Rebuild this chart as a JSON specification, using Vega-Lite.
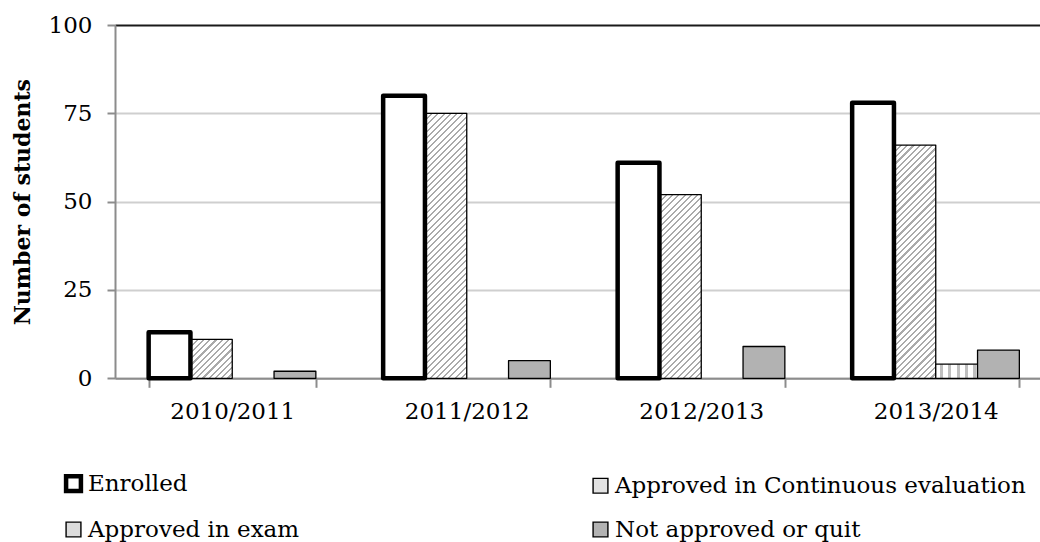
{
  "$schema": "https://vega.github.io/schema/vega-lite/v6.json",
  "width": 925,
  "height": 353.3,
  "autosize": {"type": "none"},
  "padding": {"left": 115, "top": 25, "right": 0, "bottom": 163.7},
  "background": "white",
  "config": {
    "view": {"stroke": null},
    "font": "DejaVu Serif"
  },
  "data": {
    "values": [
      {"season": "2010/2011", "series": "Approved in Continuous evaluation", "value": 11},
      {"season": "2010/2011", "series": "Approved in exam", "value": 0},
      {"season": "2010/2011", "series": "Not approved or quit", "value": 2},
      {"season": "2011/2012", "series": "Approved in Continuous evaluation", "value": 75},
      {"season": "2011/2012", "series": "Approved in exam", "value": 0},
      {"season": "2011/2012", "series": "Not approved or quit", "value": 5},
      {"season": "2012/2013", "series": "Approved in Continuous evaluation", "value": 52},
      {"season": "2012/2013", "series": "Approved in exam", "value": 0},
      {"season": "2012/2013", "series": "Not approved or quit", "value": 9},
      {"season": "2013/2014", "series": "Approved in Continuous evaluation", "value": 66},
      {"season": "2013/2014", "series": "Approved in exam", "value": 4},
      {"season": "2013/2014", "series": "Not approved or quit", "value": 8},
      {"season": "2010/2011", "series": "Enrolled", "value": 13},
      {"season": "2011/2012", "series": "Enrolled", "value": 80},
      {"season": "2012/2013", "series": "Enrolled", "value": 61},
      {"season": "2013/2014", "series": "Enrolled", "value": 78}
    ]
  },
  "transform": [{"filter": "datum.value > 0"}],
  "mark": {"type": "bar", "stroke": "black", "strokeJoin": "round"},
  "encoding": {
    "x": {
      "field": "season",
      "type": "nominal",
      "sort": ["2010/2011", "2011/2012", "2012/2013", "2013/2014"],
      "scale": {"range": [0, 938], "paddingInner": 0.287, "paddingOuter": 0.1435},
      "axis": {
        "title": null,
        "labelAngle": 0,
        "labelFontSize": 23,
        "labelColor": "black",
        "labelPadding": 13,
        "tickBand": "extent",
        "tickSize": 9,
        "tickColor": "#8c8c8c",
        "tickWidth": 2,
        "domainColor": "#8c8c8c",
        "domainWidth": 2,
        "grid": false
      }
    },
    "xOffset": {
      "field": "series",
      "type": "nominal",
      "scale": {
        "domain": ["Enrolled", "Approved in Continuous evaluation", "Approved in exam", "Not approved or quit"],
        "paddingInner": 0,
        "paddingOuter": 0
      }
    },
    "y": {
      "field": "value",
      "type": "quantitative",
      "scale": {"domain": [0, 100]},
      "axis": {
        "title": "Number of students",
        "titleFontSize": 22,
        "titleFontWeight": "bold",
        "titleColor": "black",
        "titlePadding": 14,
        "values": [0, 25, 50, 75, 100],
        "labelFontSize": 23,
        "labelColor": "black",
        "labelPadding": 15,
        "tickSize": 8,
        "tickColor": "#8c8c8c",
        "tickWidth": 2,
        "domainColor": "#8c8c8c",
        "domainWidth": 2,
        "gridColor": {"condition": {"test": "datum.value === 100", "value": "#1a1a1a"}, "value": "#cfcfcf"},
        "gridWidth": 2
      }
    },
    "fill": {
      "field": "series",
      "type": "nominal",
      "scale": {
        "domain": ["Enrolled", "Approved in exam", "Approved in Continuous evaluation", "Not approved or quit"],
        "range": ["#ffffff", "#dcdcdc", "#e2e2e2", "#b2b2b2"]
      },
      "condition": [
        {
          "test": "datum.series === 'Approved in Continuous evaluation'",
          "value": {"expr": "{gradient:'linear',x1:0,y1:0,x2:312.5*bandwidth('xOffset')/(pow(bandwidth('xOffset'),2)+pow(scale('y',0)-scale('y',datum.value),2)),y2:312.5*(scale('y',0)-scale('y',datum.value))/(pow(bandwidth('xOffset'),2)+pow(scale('y',0)-scale('y',datum.value),2)),stops:[{offset:0,color:'#aaa'},{offset:0.007,color:'#aaa'},{offset:0.007,color:'#fff'},{offset:0.02,color:'#fff'},{offset:0.02,color:'#aaa'},{offset:0.027,color:'#aaa'},{offset:0.027,color:'#fff'},{offset:0.04,color:'#fff'},{offset:0.04,color:'#aaa'},{offset:0.047,color:'#aaa'},{offset:0.047,color:'#fff'},{offset:0.06,color:'#fff'},{offset:0.06,color:'#aaa'},{offset:0.067,color:'#aaa'},{offset:0.067,color:'#fff'},{offset:0.08,color:'#fff'},{offset:0.08,color:'#aaa'},{offset:0.087,color:'#aaa'},{offset:0.087,color:'#fff'},{offset:0.1,color:'#fff'},{offset:0.1,color:'#aaa'},{offset:0.107,color:'#aaa'},{offset:0.107,color:'#fff'},{offset:0.12,color:'#fff'},{offset:0.12,color:'#aaa'},{offset:0.127,color:'#aaa'},{offset:0.127,color:'#fff'},{offset:0.14,color:'#fff'},{offset:0.14,color:'#aaa'},{offset:0.147,color:'#aaa'},{offset:0.147,color:'#fff'},{offset:0.16,color:'#fff'},{offset:0.16,color:'#aaa'},{offset:0.167,color:'#aaa'},{offset:0.167,color:'#fff'},{offset:0.18,color:'#fff'},{offset:0.18,color:'#aaa'},{offset:0.187,color:'#aaa'},{offset:0.187,color:'#fff'},{offset:0.2,color:'#fff'},{offset:0.2,color:'#aaa'},{offset:0.207,color:'#aaa'},{offset:0.207,color:'#fff'},{offset:0.22,color:'#fff'},{offset:0.22,color:'#aaa'},{offset:0.227,color:'#aaa'},{offset:0.227,color:'#fff'},{offset:0.24,color:'#fff'},{offset:0.24,color:'#aaa'},{offset:0.247,color:'#aaa'},{offset:0.247,color:'#fff'},{offset:0.26,color:'#fff'},{offset:0.26,color:'#aaa'},{offset:0.267,color:'#aaa'},{offset:0.267,color:'#fff'},{offset:0.28,color:'#fff'},{offset:0.28,color:'#aaa'},{offset:0.287,color:'#aaa'},{offset:0.287,color:'#fff'},{offset:0.3,color:'#fff'},{offset:0.3,color:'#aaa'},{offset:0.307,color:'#aaa'},{offset:0.307,color:'#fff'},{offset:0.32,color:'#fff'},{offset:0.32,color:'#aaa'},{offset:0.327,color:'#aaa'},{offset:0.327,color:'#fff'},{offset:0.34,color:'#fff'},{offset:0.34,color:'#aaa'},{offset:0.347,color:'#aaa'},{offset:0.347,color:'#fff'},{offset:0.36,color:'#fff'},{offset:0.36,color:'#aaa'},{offset:0.367,color:'#aaa'},{offset:0.367,color:'#fff'},{offset:0.38,color:'#fff'},{offset:0.38,color:'#aaa'},{offset:0.387,color:'#aaa'},{offset:0.387,color:'#fff'},{offset:0.4,color:'#fff'},{offset:0.4,color:'#aaa'},{offset:0.407,color:'#aaa'},{offset:0.407,color:'#fff'},{offset:0.42,color:'#fff'},{offset:0.42,color:'#aaa'},{offset:0.427,color:'#aaa'},{offset:0.427,color:'#fff'},{offset:0.44,color:'#fff'},{offset:0.44,color:'#aaa'},{offset:0.447,color:'#aaa'},{offset:0.447,color:'#fff'},{offset:0.46,color:'#fff'},{offset:0.46,color:'#aaa'},{offset:0.467,color:'#aaa'},{offset:0.467,color:'#fff'},{offset:0.48,color:'#fff'},{offset:0.48,color:'#aaa'},{offset:0.487,color:'#aaa'},{offset:0.487,color:'#fff'},{offset:0.5,color:'#fff'},{offset:0.5,color:'#aaa'},{offset:0.507,color:'#aaa'},{offset:0.507,color:'#fff'},{offset:0.52,color:'#fff'},{offset:0.52,color:'#aaa'},{offset:0.527,color:'#aaa'},{offset:0.527,color:'#fff'},{offset:0.54,color:'#fff'},{offset:0.54,color:'#aaa'},{offset:0.547,color:'#aaa'},{offset:0.547,color:'#fff'},{offset:0.56,color:'#fff'},{offset:0.56,color:'#aaa'},{offset:0.567,color:'#aaa'},{offset:0.567,color:'#fff'},{offset:0.58,color:'#fff'},{offset:0.58,color:'#aaa'},{offset:0.587,color:'#aaa'},{offset:0.587,color:'#fff'},{offset:0.6,color:'#fff'},{offset:0.6,color:'#aaa'},{offset:0.607,color:'#aaa'},{offset:0.607,color:'#fff'},{offset:0.62,color:'#fff'},{offset:0.62,color:'#aaa'},{offset:0.627,color:'#aaa'},{offset:0.627,color:'#fff'},{offset:0.64,color:'#fff'},{offset:0.64,color:'#aaa'},{offset:0.647,color:'#aaa'},{offset:0.647,color:'#fff'},{offset:0.66,color:'#fff'},{offset:0.66,color:'#aaa'},{offset:0.667,color:'#aaa'},{offset:0.667,color:'#fff'},{offset:0.68,color:'#fff'},{offset:0.68,color:'#aaa'},{offset:0.687,color:'#aaa'},{offset:0.687,color:'#fff'},{offset:0.7,color:'#fff'},{offset:0.7,color:'#aaa'},{offset:0.707,color:'#aaa'},{offset:0.707,color:'#fff'},{offset:0.72,color:'#fff'},{offset:0.72,color:'#aaa'},{offset:0.727,color:'#aaa'},{offset:0.727,color:'#fff'},{offset:0.74,color:'#fff'},{offset:0.74,color:'#aaa'},{offset:0.747,color:'#aaa'},{offset:0.747,color:'#fff'},{offset:0.76,color:'#fff'},{offset:0.76,color:'#aaa'},{offset:0.767,color:'#aaa'},{offset:0.767,color:'#fff'},{offset:0.78,color:'#fff'},{offset:0.78,color:'#aaa'},{offset:0.787,color:'#aaa'},{offset:0.787,color:'#fff'},{offset:0.8,color:'#fff'},{offset:0.8,color:'#aaa'},{offset:0.807,color:'#aaa'},{offset:0.807,color:'#fff'},{offset:0.82,color:'#fff'},{offset:0.82,color:'#aaa'},{offset:0.827,color:'#aaa'},{offset:0.827,color:'#fff'},{offset:0.84,color:'#fff'},{offset:0.84,color:'#aaa'},{offset:0.847,color:'#aaa'},{offset:0.847,color:'#fff'},{offset:0.86,color:'#fff'},{offset:0.86,color:'#aaa'},{offset:0.867,color:'#aaa'},{offset:0.867,color:'#fff'},{offset:0.88,color:'#fff'},{offset:0.88,color:'#aaa'},{offset:0.887,color:'#aaa'},{offset:0.887,color:'#fff'},{offset:0.9,color:'#fff'},{offset:0.9,color:'#aaa'},{offset:0.907,color:'#aaa'},{offset:0.907,color:'#fff'},{offset:0.92,color:'#fff'},{offset:0.92,color:'#aaa'},{offset:0.927,color:'#aaa'},{offset:0.927,color:'#fff'},{offset:0.94,color:'#fff'},{offset:0.94,color:'#aaa'},{offset:0.947,color:'#aaa'},{offset:0.947,color:'#fff'},{offset:0.96,color:'#fff'},{offset:0.96,color:'#aaa'},{offset:0.967,color:'#aaa'},{offset:0.967,color:'#fff'},{offset:0.98,color:'#fff'},{offset:0.98,color:'#aaa'},{offset:0.987,color:'#aaa'},{offset:0.987,color:'#fff'},{offset:1,color:'#fff'}]}"}
        },
        {
          "test": "datum.series === 'Approved in exam'",
          "value": {
            "gradient": "linear", "x1": 0, "y1": 0, "x2": 1, "y2": 0,
            "stops": [
              {"offset": 0.1, "color": "#ffffff"}, {"offset": 0.1, "color": "#bfbfbf"}, {"offset": 0.17, "color": "#bfbfbf"}, {"offset": 0.17, "color": "#ffffff"},
              {"offset": 0.3, "color": "#ffffff"}, {"offset": 0.3, "color": "#bfbfbf"}, {"offset": 0.37, "color": "#bfbfbf"}, {"offset": 0.37, "color": "#ffffff"},
              {"offset": 0.5, "color": "#ffffff"}, {"offset": 0.5, "color": "#bfbfbf"}, {"offset": 0.57, "color": "#bfbfbf"}, {"offset": 0.57, "color": "#ffffff"},
              {"offset": 0.7, "color": "#ffffff"}, {"offset": 0.7, "color": "#bfbfbf"}, {"offset": 0.77, "color": "#bfbfbf"}, {"offset": 0.77, "color": "#ffffff"},
              {"offset": 0.9, "color": "#ffffff"}, {"offset": 0.9, "color": "#bfbfbf"}, {"offset": 0.97, "color": "#bfbfbf"}, {"offset": 0.97, "color": "#ffffff"}
            ]
          }
        }
      ],
      "legend": {
        "title": null,
        "orient": "none",
        "legendX": -53,
        "legendY": 447,
        "columns": 2,
        "columnPadding": 289,
        "rowPadding": 18,
        "symbolType": "square",
        "symbolSize": 220,
        "symbolStrokeColor": "black",
        "symbolOpacity": 1,
        "labelFontSize": 23,
        "labelColor": "black",
        "labelLimit": 0,
        "labelOffset": 3,
        "padding": 0,
        "encode": {
          "symbols": {"update": {"strokeWidth": {"signal": "datum.value === 'Enrolled' ? 4.5 : 1.4"}}}
        }
      }
    },
    "strokeWidth": {
      "condition": {"test": "datum.series === 'Enrolled'", "value": 4.5},
      "value": 1.3
    }
  }
}
